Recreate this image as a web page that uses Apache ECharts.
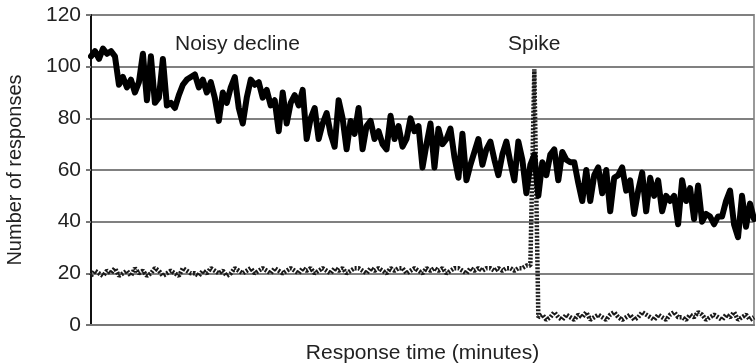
<!DOCTYPE html>
<html>
<head>
<meta charset="utf-8">
<script src="https://cdn.jsdelivr.net/npm/echarts@6/dist/echarts.min.js"></script>
<style>
html,body{margin:0;padding:0;background:#fff;}
#chart{width:756px;height:363px;}
</style>
</head>
<body>
<div id="chart"></div>
<script>
// Main series: noisy decline (one reading per time step)
const noisyDecline = [
  104,106,103,107,105,106,104,93,96,92,95,90,94,105,87,104,86,88,103,85,
  86,84,89,93,95,96,97,92,95,90,94,88,79,90,86,92,96,84,78,88,
  95,93,94,88,91,85,87,75,90,78,86,89,85,91,72,80,84,72,78,82,
  74,69,87,80,68,79,74,84,68,77,79,72,75,70,68,81,72,77,69,72,
  80,75,77,61,70,78,61,76,70,72,76,65,57,74,56,62,67,72,62,68,
  71,64,58,66,71,63,56,71,64,51,62,66,50,63,58,66,68,56,67,64,
  63,63,55,48,60,48,58,61,51,60,44,57,58,61,52,56,43,52,59,44,
  57,50,56,44,50,48,50,39,56,48,53,41,54,40,43,42,39,42,42,48,
  52,39,34,50,38,47,41
];
// Second series: flat ~20, spike to ~99, then ~3
const spikeSeries = [
  19,21,20,19,21,20,22,19,20,21,19,22,20,21,19,20,22,21,19,20,
  21,20,19,22,21,20,20,19,21,20,22,21,20,21,19,20,22,21,20,21,
  22,20,21,22,21,20,22,21,20,21,22,21,20,22,21,22,20,21,22,21,
  20,22,21,22,20,21,22,22,21,20,22,21,22,21,20,22,21,22,22,20,
  21,22,21,20,22,21,22,21,22,20,21,22,22,21,20,22,21,22,21,22,
  22,21,22,21,22,22,21,22,22,23,23,99,3,4,2,3,5,3,2,4,
  3,2,4,3,5,2,3,4,3,2,4,5,3,2,3,4,2,3,5,4,
  3,2,4,3,2,4,5,3,3,2,4,3,5,4,2,3,4,3,2,4,
  3,5,2,3,4,2,3
];
const timeSteps = noisyDecline.map((_, i) => i);
const yTicks = [0, 20, 40, 60, 80, 100, 120];

const chart = echarts.init(document.getElementById('chart'), null, {renderer: 'canvas'});
const font = 'Liberation Sans, Arial, sans-serif';
chart.setOption({
  animation: false,
  backgroundColor: '#ffffff',
  grid: {left: 91, right: 2, top: 15, bottom: 38, containLabel: false,
         outerBoundsMode: 'none',
         show: true, borderColor: '#999', borderWidth: 2},
  xAxis: {
    type: 'category',
    data: timeSteps,
    boundaryGap: false,
    name: 'Response time (minutes)',
    nameLocation: 'middle',
    nameGap: 18,
    nameTextStyle: {fontFamily: font, fontSize: 21, color: '#222'},
    axisLine: {show: true, lineStyle: {color: '#777', width: 2}},
    axisTick: {show: false},
    axisLabel: {show: false},
    splitLine: {show: false}
  },
  yAxis: {
    type: 'value',
    min: yTicks[0],
    max: yTicks[yTicks.length - 1],
    interval: 20,
    name: 'Number of responses',
    nameLocation: 'middle',
    nameGap: 66,
    nameTextStyle: {fontFamily: font, fontSize: 20, color: '#222'},
    axisLine: {show: true, lineStyle: {color: '#111', width: 2}},
    axisTick: {show: true, inside: false, length: 5, lineStyle: {color: '#777', width: 2}},
    axisLabel: {fontFamily: font, fontSize: 21, color: '#222', margin: 10},
    splitLine: {show: true, lineStyle: {color: '#808080', width: 2}}
  },
  series: [
    {
      type: 'line',
      data: spikeSeries,
      symbol: 'none',
      z: 2,
      lineStyle: {color: '#1a1a1a', width: 4.5, type: [2, 1.5]}
    },
    {
      type: 'line',
      data: noisyDecline,
      symbol: 'none',
      z: 3,
      lineStyle: {color: '#000', width: 6, join: 'round', cap: 'round'}
    }
  ],
  graphic: [
    {type: 'text', left: 175, top: 34,
     style: {text: 'Noisy decline', font: '21px ' + font, fill: '#222'}},
    {type: 'text', left: 508, top: 34,
     style: {text: 'Spike', font: '21px ' + font, fill: '#222'}}
  ]
});
</script>
</body>
</html>
